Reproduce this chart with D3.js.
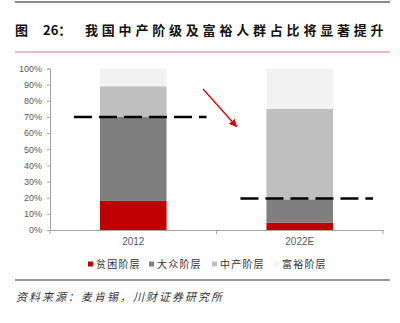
<!DOCTYPE html>
<html><head><meta charset="utf-8">
<script src="https://cdn.jsdelivr.net/npm/d3@7"></script>
<style>html,body{margin:0;padding:0;background:#fff;}svg{display:block;}</style>
</head><body>
<svg id="c" width="400" height="323"></svg>
<script>
const categories = ["2012", "2022E"];
const seriesNames = ["贫困阶层", "大众阶层", "中产阶层", "富裕阶层"];
const poor   = [18, 4.5];
const mass   = [52, 14.5];
const middle = [19, 56];
const rich   = [11, 25];
const refLine = [70, 19.5];
const yTicks = [0,10,20,30,40,50,60,70,80,90,100];
const colors = ["#C00000", "#7F7F7F", "#BFBFBF", "#F2F2F2"];

const svg = d3.select("#c");
const FONT = "'Noto Sans CJK SC', 'Noto Sans', sans-serif";

// header lines
svg.append("line").attr("x1",15).attr("x2",390).attr("y1",2).attr("y2",2).attr("stroke","#8c8c8c").attr("stroke-width",2);
svg.append("line").attr("x1",15).attr("x2",390).attr("y1",52).attr("y2",52).attr("stroke","#e07070").attr("stroke-width",1);
const tg = svg.append("g").attr("font-family",FONT).attr("font-weight","bold").attr("font-size",13).attr("fill","#111");
tg.append("text").attr("x",15).attr("y",35).text("图");
tg.append("text").attr("x",43).attr("y",35).text("26：");
tg.append("text").attr("x",85).attr("y",35).attr("letter-spacing",3.8).text("我国中产阶级及富裕人群占比将显著提升");

const x = d3.scaleBand().domain(categories).range([50,383]).paddingInner(0.6).paddingOuter(0.3);
const y = d3.scaleLinear().domain([0,100]).range([230,68.5]);

// y axis
const ya = svg.append("g").attr("transform","translate(50,0)")
  .call(d3.axisLeft(y).tickValues(yTicks).tickFormat(d=>d+"%").tickSize(3).tickPadding(5));
ya.select(".domain").attr("stroke","#a6a6a6");
ya.selectAll(".tick line").attr("stroke","#a6a6a6");
ya.selectAll("text").attr("font-family","'Liberation Sans', Arial, sans-serif").attr("font-size",9).attr("fill","#595959");

// x axis
const xa = svg.append("g").attr("transform","translate(0,230)")
  .call(d3.axisBottom(x).tickSize(0).tickPadding(8));
xa.select(".domain").attr("stroke","#a6a6a6");
xa.selectAll("text").attr("font-family","'Liberation Sans', Arial, sans-serif").attr("font-size",10).attr("fill","#595959");
// category separator ticks
const step = x.step();
const edges = [x.range()[0], x.range()[0] + step, x.range()[1]];
xa.selectAll(".sep").data(edges).enter().append("line")
  .attr("x1",d=>d).attr("x2",d=>d).attr("y1",0).attr("y2",4).attr("stroke","#a6a6a6");

// stacked bars
const table = categories.map((c,i)=>({cat:c, "贫困阶层":poor[i], "大众阶层":mass[i], "中产阶层":middle[i], "富裕阶层":rich[i]}));
const stack = d3.stack().keys(seriesNames)(table);
svg.append("g").selectAll("g").data(stack).enter().append("g").attr("fill",(d,i)=>colors[i])
  .selectAll("rect").data(d=>d).enter().append("rect")
  .attr("x",d=>x(d.data.cat)).attr("width",x.bandwidth())
  .attr("y",d=>y(d[1])).attr("height",d=>y(d[0])-y(d[1]));

// dashed reference lines
svg.append("g").selectAll("line").data(categories).enter().append("line")
  .attr("x1",d=>x(d)-26).attr("x2",d=>x(d)+x.bandwidth()+40)
  .attr("y1",(d,i)=>y(refLine[i])).attr("y2",(d,i)=>y(refLine[i]))
  .attr("stroke","#000").attr("stroke-width",2.4).attr("stroke-dasharray","18,7");

// red arrow
svg.append("defs").append("marker").attr("id","ah").attr("viewBox","0 0 10 10")
  .attr("refX",9).attr("refY",5).attr("markerWidth",6).attr("markerHeight",6).attr("orient","auto")
  .append("path").attr("d","M0,0 L10,5 L0,10 z").attr("fill","#e00000");
svg.append("line").attr("x1",203).attr("y1",89).attr("x2",236.5).attr("y2",126.5)
  .attr("stroke","#e00000").attr("stroke-width",1.3).attr("marker-end","url(#ah)");

// legend
const legX = [88, 149, 212, 274];
const lg = svg.append("g").selectAll("g").data(seriesNames).enter().append("g")
  .attr("transform",(d,i)=>`translate(${legX[i]},264)`);
lg.append("rect").attr("x",0).attr("y",-2.5).attr("width",5).attr("height",5).attr("fill",(d,i)=>colors[i]);
lg.append("text").attr("x",8).attr("y",3.5).attr("font-family",FONT).attr("font-size",10)
  .attr("letter-spacing",1.2).attr("fill","#333").text(d=>d);

// footer
svg.append("line").attr("x1",15).attr("x2",390).attr("y1",280).attr("y2",280).attr("stroke","#333").attr("stroke-width",1);
svg.append("text").attr("x",16).attr("y",301).attr("font-family",FONT).attr("font-size",11)
  .attr("font-style","italic").attr("letter-spacing",2).attr("fill","#333").text("资料来源：麦肯锡，川财证券研究所");
</script>
</body></html>
